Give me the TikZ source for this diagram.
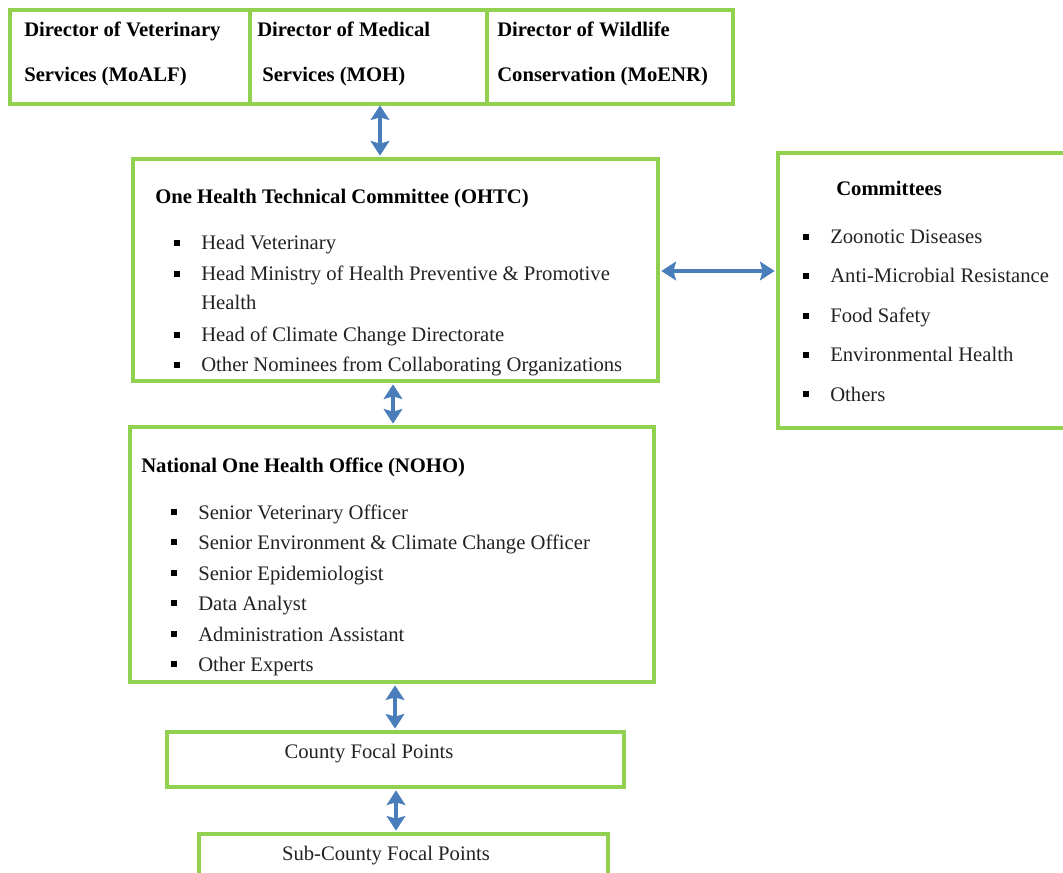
\documentclass[tikz,border=0pt]{standalone}
\usepackage{fontspec}
\setmainfont{Liberation Serif}
\usetikzlibrary{arrows.meta}
\definecolor{gbox}{HTML}{92D050}
\definecolor{barrow}{HTML}{4A7EBB}
\definecolor{txt}{HTML}{222222}
\tikzset{
  frame/.style={draw=gbox, line width=3pt, inner sep=0pt},
  ttl/.style={anchor=base west, inner sep=0pt, font=\fontsize{15.5}{18}\selectfont\bfseries, text=black},
  itm/.style={anchor=base west, inner sep=0pt, font=\fontsize{15.5}{18}\selectfont, text=txt},
  ctr/.style={anchor=base, inner sep=0pt, font=\fontsize{15.5}{18}\selectfont, text=txt},
  dbl/.style={draw=barrow, line width=3.5pt, {Stealth[length=11pt,width=14pt,inset=2pt]}-{Stealth[length=11pt,width=14pt,inset=2pt]}, shorten <=1pt, shorten >=1pt},
}
\newcommand{\blt}[3]{%
  \fill[black] (#1-3,#2-10) rectangle (#1+3,#2-4);
  \node[itm] at (#1+24,#2) {#3};}
\begin{document}
\begin{tikzpicture}[x=0.75pt,y=-0.75pt]
\useasboundingbox (0,0) rectangle (1063,873);
% top texts
\node[ttl] (t1a) at (24,37) {Director of Veterinary};
\node[ttl] (t1b) at (24,82) {Services (MoALF)};
\node[ttl] (t2a) at (257,37) {Director of Medical};
\node[ttl] (t2b) at (262,82) {Services (MOH)};
\node[ttl] (t3a) at (497,37) {Director of Wildlife};
\node[ttl] (t3b) at (497,82) {Conservation (MoENR)};
% OHTC
\node[ttl] (ohtct) at (155,204) {One Health Technical Committee (OHTC)};
\blt{177}{250}{Head Veterinary}
\blt{177}{281}{Head Ministry of Health Preventive \& Promotive}
\node[itm] (o2b) at (201,310) {Health};
\blt{177}{342}{Head of Climate Change Directorate}
\blt{177}{372}{Other Nominees from Collaborating Organizations}
% Committees
\node[ttl] (comt) at (836,196) {Committees};
\blt{806}{244}{Zoonotic Diseases}
\blt{806}{283}{Anti-Microbial Resistance}
\blt{806}{323}{Food Safety}
\blt{806}{362}{Environmental Health}
\blt{806}{401}{Others}
% NOHO
\node[ttl] (nohot) at (141,472) {National One Health Office (NOHO)};
\blt{174}{519}{Senior Veterinary Officer}
\blt{174}{549}{Senior Environment \& Climate Change Officer}
\blt{174}{580}{Senior Epidemiologist}
\blt{174}{610}{Data Analyst}
\blt{174}{641}{Administration Assistant}
\blt{174}{671}{Other Experts}
% bottom texts
\node[ctr] (ct) at (369,758) {County Focal Points};
\node[ctr] (sct) at (386,860) {Sub-County Focal Points};
% frames
\draw[frame] (10,10) rectangle (733,104);
\draw[frame] (250,10) -- (250,104);
\draw[frame] (487,10) -- (487,104);
\coordinate (topb) at (380,104);
\node[frame, minimum width=393.75pt, minimum height=166.5pt, anchor=north west] (ohtc) at (131,157) {};
\node[frame, minimum width=218pt, minimum height=206.25pt, anchor=north west] (com) at (776,151) {};
\node[frame, minimum width=393pt, minimum height=191.25pt, anchor=north west] (noho) at (128,425) {};
\node[frame, minimum width=342.75pt, minimum height=41.25pt, anchor=north west] (county) at (165,730) {};
\node[frame, minimum width=306.75pt, minimum height=45pt, anchor=north west] (sub) at (197,832) {};
% arrows
\draw[dbl] (topb) -- (ohtc.north -| topb);
\draw[dbl] (ohtc.south -| 393,0) -- (noho.north -| 393,0);
\draw[dbl] (ohtc.east |- 0,271) -- (com.west |- 0,271);
\draw[dbl] (noho.south -| 395,0) -- (county.north -| 395,0);
\draw[dbl] (county.south -| 396,0) -- (sub.north -| 396,0);
\end{tikzpicture}
\end{document}
